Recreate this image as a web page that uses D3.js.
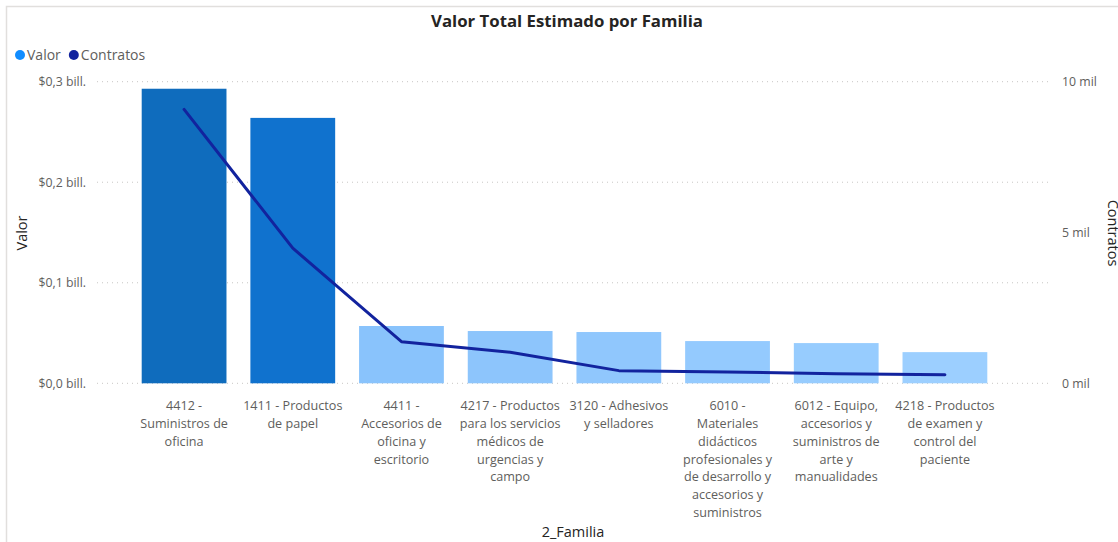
<!DOCTYPE html>
<html>
<head>
<meta charset="utf-8">
<script src="https://cdn.jsdelivr.net/npm/d3@7"></script>
<style>
  html, body { margin: 0; padding: 0; background: #fff; }
  svg { display: block; font-family: "Open Sans", "Noto Sans", sans-serif; }
</style>
</head>
<body>
<svg id="chart" width="1118" height="542"></svg>
<script>
// ---- data ----
const categories = [
  "4412 - Suministros de oficina",
  "1411 - Productos de papel",
  "4411 - Accesorios de oficina y escritorio",
  "4217 - Productos para los servicios médicos de urgencias y campo",
  "3120 - Adhesivos y selladores",
  "6010 - Materiales didácticos profesionales y de desarrollo y accesorios y suministros",
  "6012 - Equipo, accesorios y suministros de arte y manualidades",
  "4218 - Productos de examen y control del paciente"
];
const categoryLines = [
  ["4412 -", "Suministros de", "oficina"],
  ["1411 - Productos", "de papel"],
  ["4411 -", "Accesorios de", "oficina y", "escritorio"],
  ["4217 - Productos", "para los servicios", "médicos de", "urgencias y", "campo"],
  ["3120 - Adhesivos", "y selladores"],
  ["6010 -", "Materiales", "didácticos", "profesionales y", "de desarrollo y", "accesorios y", "suministros"],
  ["6012 - Equipo,", "accesorios y", "suministros de", "arte y", "manualidades"],
  ["4218 - Productos", "de examen y", "control del", "paciente"]
];
// Valor in "bill." (billones)
const valor = [0.293, 0.264, 0.057, 0.052, 0.051, 0.042, 0.040, 0.031];
const contratos = [9080, 4480, 1380, 1030, 420, 375, 320, 280];
const valorTicks = [0, 0.1, 0.2, 0.3];
const valorTickLabels = ["$0,0 bill.", "$0,1 bill.", "$0,2 bill.", "$0,3 bill."];
const contratosTicks = [0, 5000, 10000];
const contratosTickLabels = ["0 mil", "5 mil", "10 mil"];
const barColors = ["#0F6CBD", "#1072CE", "#89C3FC", "#8DC5FC", "#90C7FD", "#94CAFE", "#97CCFE", "#9CCFFF"];

// ---- layout ----
const svg = d3.select("#chart");
const plotTop = 81.7, plotBottom = 383.3;
const gridLeft = 97, gridRight = 1050;

const x = d3.scaleBand().domain(categories).range([141.7, 987.3]).paddingInner(0.22).paddingOuter(0);
const y = d3.scaleLinear().domain([0, 0.3]).range([plotBottom, plotTop]);
const y2 = d3.scaleLinear().domain([0, 10000]).range([plotBottom, plotTop]);

// frame
svg.append("path").attr("d", "M6.5,542 V6.5 H1118").attr("fill", "none").attr("stroke", "#E1DFDD").attr("stroke-width", 1.5);

// title
svg.append("text").attr("x", 567).attr("y", 27).attr("text-anchor", "middle")
  .attr("font-size", 16.8).attr("font-weight", 700).attr("fill", "#252423")
  .text("Valor Total Estimado por Familia");

// legend
const legend = [{name: "Valor", color: "#118DFF"}, {name: "Contratos", color: "#12239E"}];
let lx = 20;
legend.forEach(l => {
  svg.append("circle").attr("cx", lx).attr("cy", 55).attr("r", 5).attr("fill", l.color);
  const t = svg.append("text").attr("x", lx + 7).attr("y", 60).attr("font-size", 14).attr("fill", "#605E5C").text(l.name);
  lx += 7 + t.node().getComputedTextLength() + 13;
});

// gridlines
svg.append("g").selectAll("line").data(valorTicks).join("line")
  .attr("x1", gridLeft).attr("x2", gridRight)
  .attr("y1", d => y(d)).attr("y2", d => y(d))
  .attr("stroke", "#C8C6C4").attr("stroke-width", 1).attr("stroke-dasharray", "1,4");

// left axis
const yAxis = d3.axisLeft(y).tickValues(valorTicks).tickSize(0).tickPadding(0)
  .tickFormat((d, i) => valorTickLabels[i]);
const gy = svg.append("g").attr("transform", "translate(86,0)").call(yAxis);
gy.select(".domain").remove();
gy.selectAll("text").attr("font-size", 12.3).attr("fill", "#605E5C").attr("font-family", "\"Open Sans\", sans-serif");

// right axis
const y2Axis = d3.axisRight(y2).tickValues(contratosTicks).tickSize(0).tickPadding(0)
  .tickFormat((d, i) => contratosTickLabels[i]);
const gy2 = svg.append("g").attr("transform", "translate(1062,0)").call(y2Axis);
gy2.select(".domain").remove();
gy2.selectAll("text").attr("font-size", 12.3).attr("fill", "#605E5C").attr("font-family", "\"Open Sans\", sans-serif");

// axis titles
svg.append("text").attr("transform", "translate(27,233) rotate(-90)").attr("text-anchor", "middle")
  .attr("font-size", 14.5).attr("fill", "#252423").text("Valor");
svg.append("text").attr("transform", "translate(1108,233) rotate(90)").attr("text-anchor", "middle")
  .attr("font-size", 14.5).attr("fill", "#252423").text("Contratos");
svg.append("text").attr("x", 573).attr("y", 537).attr("text-anchor", "middle")
  .attr("font-size", 14.5).attr("fill", "#252423").text("2_Familia");

// bars
svg.append("g").selectAll("rect").data(categories).join("rect")
  .attr("x", d => x(d)).attr("width", x.bandwidth())
  .attr("y", (d, i) => y(valor[i])).attr("height", (d, i) => y(0) - y(valor[i]))
  .attr("fill", (d, i) => barColors[i]);

// line
const line = d3.line().x((d, i) => x(categories[i]) + x.bandwidth() / 2).y(d => y2(d));
svg.append("path").datum(contratos).attr("d", line)
  .attr("fill", "none").attr("stroke", "#12239E").attr("stroke-width", 3)
  .attr("stroke-linejoin", "round").attr("stroke-linecap", "round");

// x axis labels
const xAxis = d3.axisBottom(x).tickSize(0).tickPadding(0).tickFormat(() => "");
const gx = svg.append("g").attr("transform", `translate(0,${plotBottom})`).call(xAxis);
gx.select(".domain").remove();
gx.selectAll(".tick").each(function(d, i) {
  const t = d3.select(this).select("text").attr("y", 0).attr("dy", null)
    .attr("font-size", 12.6).attr("fill", "#605E5C").attr("font-family", "\"Open Sans\", sans-serif");
  categoryLines[i].forEach((ln, j) => {
    t.append("tspan").attr("x", 0).attr("y", 27 + j * 17.8).text(ln);
  });
});
</script>
</body>
</html>
